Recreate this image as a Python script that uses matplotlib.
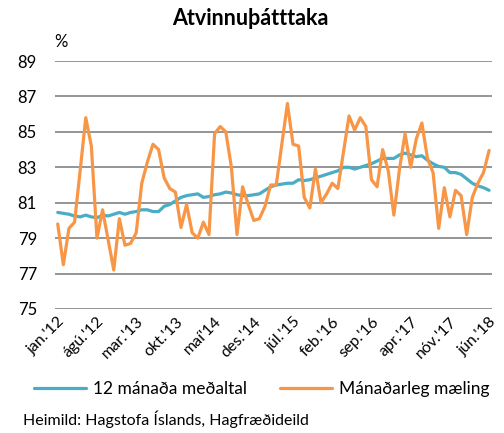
import matplotlib
matplotlib.use("Agg")
import matplotlib.pyplot as plt

plt.rcParams['font.family'] = ['Lato', 'DejaVu Sans']

# monthly, jan 2012 - jun 2018
tick_labels = ["jan.'12", "ágú.'12", "mar.'13", "okt.'13", "maí'14", "des.'14",
               "júl.'15", "feb.'16", "sep.'16", "apr.'17", "nóv.'17", "jún.'18"]

avg_12m = [80.45, 80.4, 80.35, 80.25, 80.2, 80.3, 80.2, 80.15, 80.3, 80.25,
           80.35, 80.45, 80.35, 80.45, 80.5, 80.6, 80.6, 80.5, 80.5, 80.8,
           80.9, 81.1, 81.3, 81.4, 81.45, 81.5, 81.3, 81.35, 81.45, 81.5,
           81.6, 81.55, 81.45, 81.4, 81.4, 81.45, 81.5, 81.7, 81.9, 82.0,
           82.05, 82.1, 82.1, 82.3, 82.25, 82.3, 82.4, 82.5, 82.6, 82.7,
           82.8, 83.0, 83.0, 82.9, 83.0, 83.1, 83.2, 83.35, 83.5, 83.5,
           83.5, 83.7, 83.8, 83.7, 83.6, 83.65, 83.4, 83.2, 83.05, 83.0,
           82.7, 82.7, 82.6, 82.35, 82.1, 81.95, 81.85, 81.7]

monthly = [79.8, 77.5, 79.55, 79.9, 82.8, 85.8, 84.2, 79.0, 80.6, 78.9,
           77.2, 80.1, 78.6, 78.7, 79.3, 82.1, 83.3, 84.3, 84.0, 82.4,
           81.8, 81.6, 79.6, 80.9, 79.3, 79.0, 79.9, 79.2, 84.9, 85.3,
           85.0, 83.0, 79.2, 81.9, 80.9, 80.0, 80.1, 80.8, 82.0, 82.0,
           84.3, 86.6, 84.3, 84.2, 81.3, 80.7, 82.9, 81.0, 81.5, 82.1,
           81.8, 83.85, 85.9, 85.1, 85.8, 85.3, 82.3, 81.9, 84.0, 82.8,
           80.3, 82.9, 84.9, 83.0, 84.6, 85.5, 83.5, 82.7, 79.55, 81.85,
           80.2, 81.7, 81.4, 79.2, 81.3, 82.1, 82.7, 83.95]

blue = "#4BACC6"
orange = "#F79646"

fig = plt.figure(figsize=(5.04, 4.33), dpi=100)
ax = fig.add_axes([0.109, 0.2864, 0.867, 0.5727])

x = list(range(len(monthly)))
ax.plot(x, avg_12m, color=blue, lw=2.3, label="12 mánaða meðaltal", solid_capstyle="round")
ax.plot(x, monthly, color=orange, lw=2.3, label="Mánaðarleg mæling", solid_capstyle="round")

ax.set_xlim(-0.5, len(monthly) - 0.5)
ax.set_ylim(75, 89)
ax.set_yticks(range(75, 90, 2))
ax.yaxis.grid(True, color="#8c8c8c", lw=1.3)
ax.set_axisbelow(True)
for s in ax.spines.values():
    s.set_visible(False)
ax.tick_params(axis="y", length=0, labelsize=12, pad=13)
ax.set_xticks(x[::7])
ax.set_xticklabels(tick_labels, rotation=45, ha="right", rotation_mode="anchor", fontsize=11.5)
ax.tick_params(axis="x", length=0, pad=4)

fig.text(0.497, 0.958, "Atvinnuþátttaka", ha="center", va="center", fontsize=15.5, fontweight="bold")
fig.text(0.107, 0.903, "%", ha="left", va="center", fontsize=12)

fig.legend(loc="center", bbox_to_anchor=(0.52, 0.101), ncol=2, frameon=False,
           fontsize=12.5, handlelength=3.0, columnspacing=1.9, handletextpad=0.4)
fig.text(0.045, 0.032, "Heimild: Hagstofa Íslands, Hagfræðideild", ha="left", va="center", fontsize=11.5)

fig.savefig("out.png", dpi=100)
